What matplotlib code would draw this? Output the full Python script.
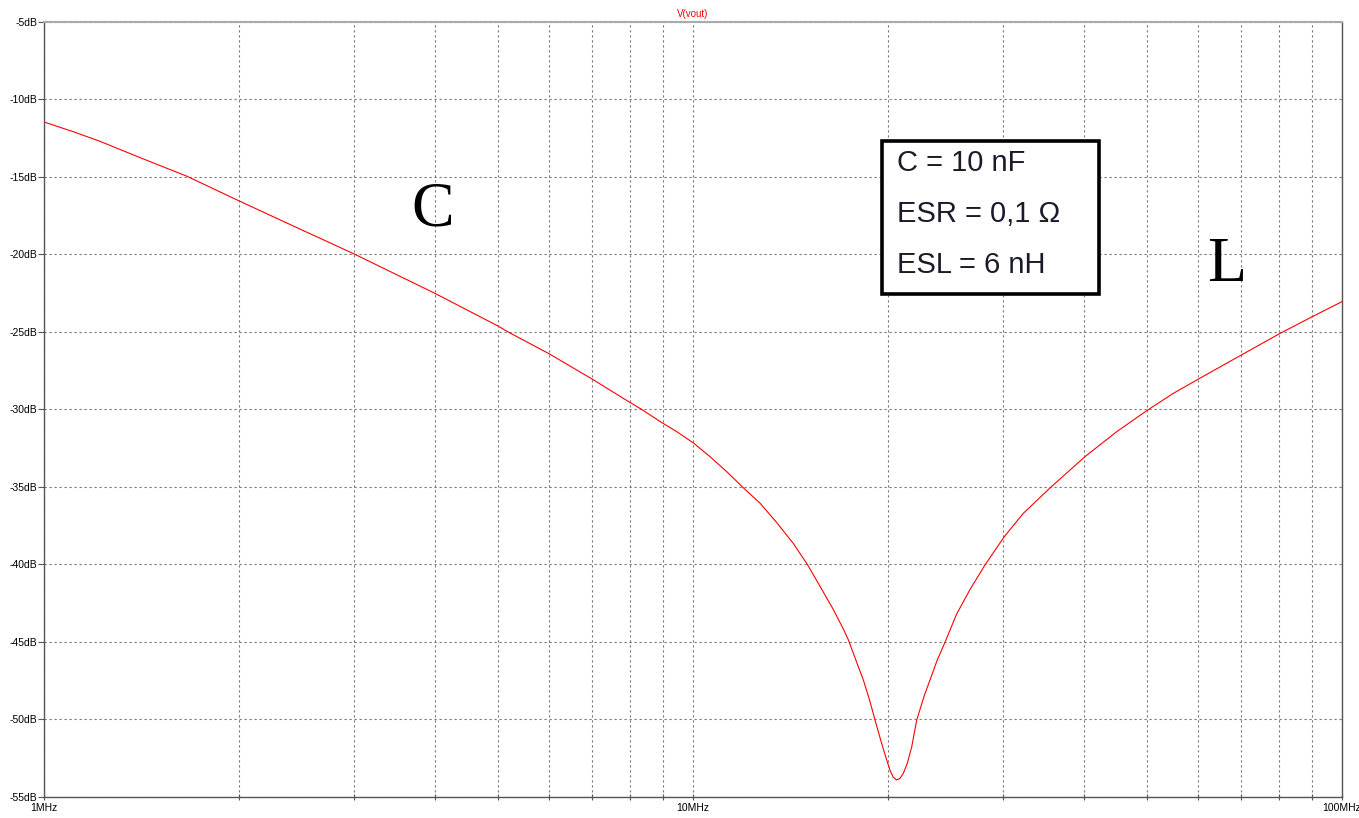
import numpy as np
import matplotlib
matplotlib.use("Agg")
import matplotlib.pyplot as plt
from matplotlib.patches import Rectangle

# frequency (MHz) and response (dB)
freq_mhz = [1.0, 1.11, 1.22, 1.406, 1.66, 2.0, 2.39, 2.86, 3.0, 4.0, 5.0, 5.19,
            6.0, 7.0, 8.0, 8.34, 8.90, 9.44, 10.03, 10.62, 11.27, 11.96, 12.69,
            13.46, 14.28, 15.02, 15.69, 16.45, 17.04, 17.35, 17.87, 18.30, 18.70,
            19.08, 19.46, 19.81, 20.11, 20.35, 20.60, 20.84, 21.09, 21.39, 21.73,
            22.11, 22.70, 23.30, 23.79, 24.45, 25.48, 26.73, 28.18, 30.18, 32.28,
            35.49, 40.18, 44.97, 50.0, 54.96, 60.0, 70.0, 80.27, 90.0, 100.0]
gain_db = [-11.45, -12.08, -12.7, -13.75, -14.95, -16.55, -18.05, -19.55, -19.95,
           -22.5, -24.6, -25.0, -26.4, -28.05, -29.55, -30.0, -30.78, -31.43, -32.18,
           -33.04, -34.01, -35.06, -36.05, -37.3, -38.65, -40.03, -41.4, -42.9,
           -44.15, -44.85, -46.3, -47.45, -48.71, -50.05, -51.32, -52.40, -53.26,
           -53.73, -53.90, -53.80, -53.47, -52.83, -51.75, -50.05, -48.5, -47.2,
           -46.16, -45.02, -43.2, -41.6, -40.03, -38.20, -36.70, -35.06, -33.04,
           -31.43, -30.08, -28.96, -28.05, -26.48, -25.09, -24.01, -23.04]

y_ticks = [-5, -10, -15, -20, -25, -30, -35, -40, -45, -50, -55]
x_ticks = [1e6, 1e7, 1e8]
x_labels = ['1MHz', '10MHz', '100MHz']
box_lines = ['C = 10 nF', 'ESR = 0,1 \u03a9', 'ESL = 6 nH']

W, H = 1359, 818
fig = plt.figure(figsize=(W / 100, H / 100), dpi=100)
ax = fig.add_axes([44 / W, 1 - 797 / H, (1342 - 44) / W, (797 - 22) / H])

f = np.array(freq_mhz) * 1e6
ax.plot(f, gain_db, color='red', linewidth=0.8)

ax.set_xscale('log')
ax.set_xlim(1e6, 1e8)
ax.set_ylim(-55, -5)
ax.set_yticks(y_ticks)
ax.set_yticklabels(['%ddB' % v for v in y_ticks])
ax.set_xticks(x_ticks)
ax.set_xticklabels(x_labels)
minor = [m * 10 ** e for e in (6, 7) for m in range(2, 10)]
ax.set_xticks(minor, minor=True)
ax.xaxis.set_minor_formatter(plt.NullFormatter())

grid_style = dict(color='#777777', linestyle=(0, (2, 2.5)), linewidth=0.8)
ax.grid(True, which='major', axis='both', **grid_style)
ax.grid(True, which='minor', axis='x', **grid_style)

for s in ('left', 'bottom', 'right'):
    ax.spines[s].set_color('#555555')
    ax.spines[s].set_linewidth(1.0)
ax.spines['top'].set_color('#aaaaaa')
ax.spines['top'].set_linewidth(1.5)

ax.tick_params(axis='y', direction='out', length=4, width=0.8, color='#555555',
               labelsize=7.5, pad=1)
ax.tick_params(axis='x', which='both', direction='inout', length=5, width=0.8,
               color='#555555', labelsize=7.5, pad=2)
for lab in ax.get_xticklabels() + ax.get_yticklabels():
    lab.set_family('Liberation Sans')

fig.text(693 / W, 1 - 14 / H, 'V(vout)', color='red', fontsize=7,
         ha='center', va='center', family='Liberation Sans')

# region labels
fig.text(433 / W, 1 - 211 / H, 'C', fontsize=46, family='Liberation Serif',
         ha='center', va='center')
fig.text(1227 / W, 1 - 266 / H, 'L', fontsize=46, family='Liberation Serif',
         ha='center', va='center')

# component box
fig.patches.append(Rectangle((881.5 / W, 1 - 293.5 / H), (1099 - 881.5) / W,
                             (293.5 - 141) / H, transform=fig.transFigure,
                             facecolor='white', edgecolor='black', linewidth=2.6,
                             zorder=5))
for i, t in enumerate(box_lines):
    fig.text(897 / W, 1 - (163 + 51 * i) / H, t, fontsize=21,
             family='Liberation Sans', color='#1a1a2a', ha='left', va='center',
             zorder=6)

fig.savefig('out.png', dpi=100)
